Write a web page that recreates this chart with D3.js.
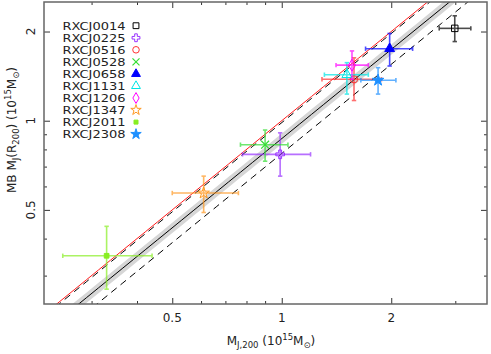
<!DOCTYPE html>
<html>
<head>
<meta charset="utf-8">
<script src="https://cdn.jsdelivr.net/npm/d3@7"></script>
<style>
  body { margin: 0; background: #fff; }
  text { font-family: "DejaVu Sans", "Liberation Sans", sans-serif; fill: #222; }
</style>
</head>
<body>
<div id="chart"></div>
<script>
// cluster names and masses (10^15 Msun)
const clusters = ["RXCJ0014", "RXCJ0225", "RXCJ0516", "RXCJ0528", "RXCJ0658",
                  "RXCJ1131", "RXCJ1206", "RXCJ1347", "RXCJ2011", "RXCJ2308"];
const mJ    = [2.99, 0.99, 1.58, 0.90, 1.98, 1.51, 1.56, 0.61, 0.33, 1.84];
const mJlo  = [2.71, 0.78, 1.29, 0.77, 1.70, 1.31, 1.41, 0.50, 0.25, 1.65];
const mJhi  = [3.31, 1.20, 1.88, 1.04, 2.29, 1.73, 1.73, 0.76, 0.44, 2.06];
const mMB   = [2.05, 0.77, 1.38, 0.83, 1.75, 1.43, 1.54, 0.57, 0.35, 1.37];
const mMBlo = [1.85, 0.65, 1.17, 0.73, 1.53, 1.23, 1.38, 0.49, 0.27, 1.23];
const mMBhi = [2.26, 0.91, 1.63, 0.93, 1.97, 1.57, 1.72, 0.65, 0.44, 1.51];
const colors = ["#000000", "#9933ff", "#ff3333", "#33dd33", "#0000ff",
                "#00e5e5", "#ff00ff", "#ff9922", "#88ee22", "#1e90ff"];
const shapes = ["square", "cross", "circle", "times", "triangle",
                "triangle", "diamond", "star", "square", "star"];
const filled = [false, false, false, false, true, false, false, false, true, true];

// fitted relation y = a*x, scatter lines and band
const fitRatio = 0.87;
const scatterRatios = [0.985, 0.775];
const bandRatios = [0.835, 0.905];

const xTicksMajor = [0.5, 1, 2];
const xTicksMinor = [0.3, 0.4, 0.6, 0.7, 0.8, 0.9, 3];
const yTicksMajor = [0.5, 1, 2];
const yTicksMinor = [0.3, 0.4, 0.6, 0.7, 0.8, 0.9];

const W = 491, H = 354;
const m = {left: 44, right: 487, top: 2, bottom: 304};

const svg = d3.select("#chart").append("svg")
    .attr("width", W).attr("height", H);

const x = d3.scaleLog().domain([0.222, 3.667]).range([m.left, m.right]);
const y = d3.scaleLog().domain([0.2406, 2.516]).range([m.bottom, m.top]);

svg.append("clipPath").attr("id", "clip")
  .append("rect").attr("x", m.left).attr("y", m.top)
  .attr("width", m.right - m.left).attr("height", m.bottom - m.top);

const plot = svg.append("g").attr("clip-path", "url(#clip)");

const xs = d3.range(0, 41).map(i => 0.2 * Math.pow(4.0 / 0.2, i / 40));

// grey band around the fit
plot.append("path")
  .datum(xs)
  .attr("d", d3.area().x(d => x(d)).y0(d => y(d * bandRatios[0])).y1(d => y(d * bandRatios[1])))
  .attr("fill", "#d6d6d6");

const line = r => d3.line().x(d => x(d)).y(d => y(d * r));

plot.append("path").datum(xs).attr("d", line(fitRatio))
  .attr("fill", "none").attr("stroke", "#000").attr("stroke-width", 1);

scatterRatios.forEach(r => {
  plot.append("path").datum(xs).attr("d", line(r))
    .attr("fill", "none").attr("stroke", "#000").attr("stroke-width", 1)
    .attr("stroke-dasharray", "7,5");
});

// 1:1 line
plot.append("path").datum(xs).attr("d", line(1))
  .attr("fill", "none").attr("stroke", "#ff1a1a").attr("stroke-width", 1);

function symbolPath(shape, size) {
  const t = {
    square: d3.symbolSquare, cross: d3.symbolCross, circle: d3.symbolCircle,
    times: d3.symbolTimes || d3.symbolX, triangle: d3.symbolTriangle,
    diamond: d3.symbolDiamond, star: d3.symbolStar
  }[shape];
  return d3.symbol().type(t).size(size)();
}

function drawSymbol(g, i, size) {
  const isLine = shapes[i] === "times";
  g.append("path")
    .attr("d", symbolPath(shapes[i], size))
    .attr("fill", filled[i] ? colors[i] : "none")
    .attr("stroke", colors[i])
    .attr("stroke-width", isLine ? 1.2 : 1);
}

// error bars and points
const cap = 2.2;
clusters.forEach((c, i) => {
  const g = plot.append("g").attr("stroke", colors[i]).attr("stroke-width", 1.6)
    .attr("opacity", 0.7);
  const cx = x(mJ[i]), cy = y(mMB[i]);
  g.append("line").attr("x1", x(mJlo[i])).attr("x2", x(mJhi[i])).attr("y1", cy).attr("y2", cy);
  g.append("line").attr("x1", cx).attr("x2", cx).attr("y1", y(mMBlo[i])).attr("y2", y(mMBhi[i]));
  [x(mJlo[i]), x(mJhi[i])].forEach(px =>
    g.append("line").attr("x1", px).attr("x2", px).attr("y1", cy - cap).attr("y2", cy + cap));
  [y(mMBlo[i]), y(mMBhi[i])].forEach(py =>
    g.append("line").attr("x1", cx - cap).attr("x2", cx + cap).attr("y1", py).attr("y2", py));
  const s = plot.append("g").attr("transform", `translate(${cx},${cy})`);
  drawSymbol(s, i, shapes[i] === "square" && filled[i] ? 22 : 42);
});

// axes (ticks inward, mirrored)
function addAxis(axisFn, scale, tr, vals, len) {
  const g = svg.append("g").attr("transform", tr)
    .call(axisFn(scale).tickValues(vals).tickSizeInner(-len).tickSizeOuter(0).tickFormat(""));
  g.select(".domain").remove();
  g.selectAll(".tick line").attr("stroke", "#333").attr("stroke-width", 1);
  return g;
}
addAxis(d3.axisBottom, x, `translate(0,${m.bottom})`, xTicksMajor, 6);
addAxis(d3.axisBottom, x, `translate(0,${m.bottom})`, xTicksMinor, 3);
addAxis(d3.axisTop, x, `translate(0,${m.top})`, xTicksMajor, 6);
addAxis(d3.axisTop, x, `translate(0,${m.top})`, xTicksMinor, 3);
addAxis(d3.axisLeft, y, `translate(${m.left},0)`, yTicksMajor, 6);
addAxis(d3.axisLeft, y, `translate(${m.left},0)`, yTicksMinor, 3);
addAxis(d3.axisRight, y, `translate(${m.right},0)`, yTicksMajor, 6);
addAxis(d3.axisRight, y, `translate(${m.right},0)`, yTicksMinor, 3);

svg.append("rect").attr("x", m.left).attr("y", m.top)
  .attr("width", m.right - m.left).attr("height", m.bottom - m.top)
  .attr("fill", "none").attr("stroke", "#666").attr("stroke-width", 1.5);

// tick labels
svg.selectAll(".xlab").data(xTicksMajor).enter().append("text")
  .attr("x", d => x(d)).attr("y", m.bottom + 18)
  .attr("text-anchor", "middle").attr("font-size", 12)
  .text(d => d);
svg.selectAll(".ylab").data(yTicksMajor).enter().append("text")
  .attr("transform", d => `translate(${m.left - 9},${y(d)}) rotate(-90)`)
  .attr("text-anchor", "middle").attr("font-size", 12)
  .text(d => d);

// axis titles
const xt = svg.append("text").attr("x", 271).attr("y", 345)
  .attr("text-anchor", "middle").attr("font-size", 12);
xt.append("tspan").text("M");
xt.append("tspan").attr("font-size", 8.5).attr("dy", 3).text("J,200");
xt.append("tspan").attr("dy", -3).text(" (10");
xt.append("tspan").attr("font-size", 8.5).attr("dy", -5).text("15");
xt.append("tspan").attr("dy", 5).text("M");
xt.append("tspan").attr("font-size", 8.5).attr("dy", 3).text("\u2299");
xt.append("tspan").attr("dy", -3).text(")");

const yt = svg.append("text").attr("transform", "translate(16,130) rotate(-90)")
  .attr("text-anchor", "middle").attr("font-size", 12);
yt.append("tspan").text("MB M");
yt.append("tspan").attr("font-size", 8.5).attr("dy", 3).text("J");
yt.append("tspan").attr("dy", -3).text("(R");
yt.append("tspan").attr("font-size", 8.5).attr("dy", 3).text("200");
yt.append("tspan").attr("dy", -3).text(") (10");
yt.append("tspan").attr("font-size", 8.5).attr("dy", -5).text("15");
yt.append("tspan").attr("dy", 5).text("M");
yt.append("tspan").attr("font-size", 8.5).attr("dy", 3).text("\u2299");
yt.append("tspan").attr("dy", -3).text(")");

// legend
const legend = svg.append("g");
clusters.forEach((c, i) => {
  const ly = 25.7 + i * 12.05;
  legend.append("text").attr("x", 62.5).attr("y", ly + 4)
    .attr("font-size", 11).attr("textLength", 63).attr("lengthAdjust", "spacingAndGlyphs")
    .text(c);
  const s = legend.append("g").attr("transform", `translate(136,${ly})`);
  drawSymbol(s, i, shapes[i] === "square" && filled[i] ? 16 : 34);
});
</script>
</body>
</html>
